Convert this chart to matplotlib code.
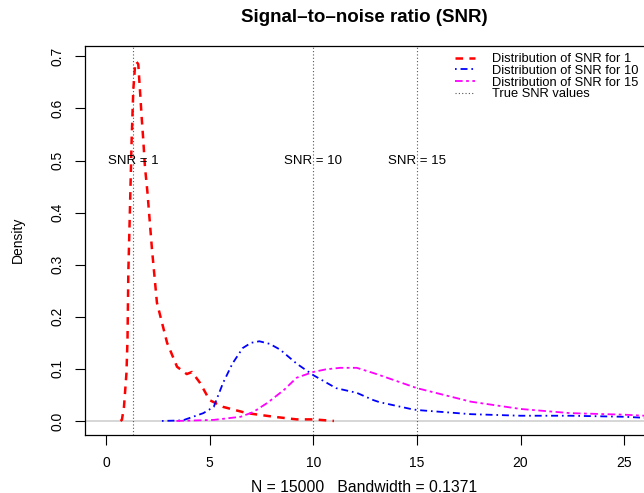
import matplotlib
matplotlib.use("Agg")
import matplotlib.pyplot as plt
import numpy as np

plt.rcParams['font.family'] = ['Liberation Sans', 'DejaVu Sans']
plt.rcParams['lines.scale_dashes'] = False

# density curves
x_snr1 = [0.70, 0.77, 0.87, 0.99, 1.04, 1.08, 1.16, 1.24, 1.32, 1.40, 1.47, 1.56, 1.64, 1.72,
          1.80, 1.88, 2.00, 2.22, 2.46, 2.95, 3.43, 3.90, 4.15, 4.54, 5.00, 5.65, 6.80, 8.10,
          9.20, 10.0, 11.0]
y_snr1 = [0.000, 0.002, 0.027, 0.092, 0.156, 0.285, 0.410, 0.540, 0.636, 0.680, 0.690, 0.685,
          0.636, 0.585, 0.540, 0.489, 0.440, 0.330, 0.227, 0.150, 0.104, 0.090, 0.094, 0.073,
          0.040, 0.027, 0.015, 0.008, 0.003, 0.003, 0.000]

x_snr10 = [2.7, 3.7, 4.7, 5.2, 5.65, 6.1, 6.6, 7.0, 7.4, 7.9, 8.4, 9.2, 10.0, 11.1, 12.1, 12.9,
           13.2, 14.7, 15.0, 17.6, 20.0, 22.4, 25.0, 26.5]
y_snr10 = [0.000, 0.001, 0.015, 0.027, 0.073, 0.110, 0.140, 0.150, 0.153, 0.148, 0.137, 0.110,
           0.088, 0.063, 0.054, 0.040, 0.036, 0.023, 0.021, 0.013, 0.010, 0.010, 0.008, 0.005]

x_snr15 = [3.4, 5.2, 6.5, 7.1, 7.8, 8.6, 9.2, 10.0, 10.6, 11.3, 12.1, 12.9, 13.2, 15.0, 17.6,
           20.0, 22.4, 25.0, 26.5]
y_snr15 = [0.000, 0.002, 0.008, 0.017, 0.035, 0.060, 0.083, 0.094, 0.099, 0.102, 0.102, 0.092,
           0.088, 0.063, 0.037, 0.023, 0.015, 0.012, 0.009]

true_snr = [1.3, 10, 15]
snr_text = ["SNR = 1", "SNR = 10", "SNR = 15"]
legend_labels = ["Distribution of SNR for 1", "Distribution of SNR for 10",
                 "Distribution of SNR for 15", "True SNR values"]

W, H = 644, 493
fig = plt.figure(figsize=(W / 100, H / 100), dpi=100)
ax = fig.add_axes([85 / W, (H - 435) / H, 562 / W, 389 / H])

ax.axhline(0, color="#d3d3d3", lw=1.3, zorder=1)

l1, = ax.plot(x_snr1, y_snr1, color="red", lw=1.8, dashes=(5.5, 4.5))
l2, = ax.plot(x_snr10, y_snr10, color="blue", lw=1.3, dashes=(1.2, 2.8, 5.0, 2.8))
l3, = ax.plot(x_snr15, y_snr15, color="magenta", lw=1.3, dashes=(5.5, 2.5, 2.0, 2.5))
for v in true_snr:
    lv = ax.axvline(v, color="#555555", lw=0.8, dashes=(0.8, 1.6), zorder=1)
for v, t in zip(true_snr, snr_text):
    ax.text(v, 0.5, t, ha="center", va="center", fontsize=9.5)

ax.set_xlim(-1.01, 26.1)
ax.set_ylim(-0.027, 0.72)
ax.set_xticks([0, 5, 10, 15, 20, 25])
ax.set_yticks([0, 0.1, 0.2, 0.3, 0.4, 0.5, 0.6, 0.7])
ax.set_yticklabels(["0.0", "0.1", "0.2", "0.3", "0.4", "0.5", "0.6", "0.7"],
                   rotation=90, va="center")
ax.tick_params(axis="both", length=7, width=0.8, labelsize=10, pad=8)
for s in ax.spines.values():
    s.set_linewidth(0.9)

fig.text(364 / W, 1 - 18 / H, "Signal\u2013to\u2013noise ratio (SNR)", ha="center",
         va="center", fontsize=13.5, fontweight="bold")
fig.text(364 / W, 1 - 487 / H, "N = 15000   Bandwidth = 0.1371", ha="center",
         va="center", fontsize=11.3)
fig.text(18 / W, 1 - 240 / H, "Density", ha="center", va="center", rotation=90,
         fontsize=10)

ax.legend([l1, l2, l3, lv], legend_labels, loc="upper left",
          bbox_to_anchor=(455 / W, 1 - 53 / H), bbox_transform=fig.transFigure,
          frameon=False, fontsize=9.3, handlelength=1.55, handletextpad=1.3,
          labelspacing=-0.02, borderpad=0, borderaxespad=0)

fig.savefig("out.png", dpi=100)
